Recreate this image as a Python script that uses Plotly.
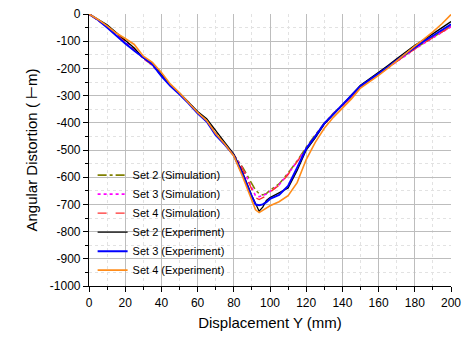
import plotly.graph_objects as go

x_mm = [0, 5, 10, 15, 20, 25, 30, 35, 40, 45, 50, 55, 60, 65, 70, 75, 80, 85, 90, 92, 94, 96, 98, 100,
        105, 110, 115, 120, 125, 130, 135, 140, 145, 150, 155, 160, 165, 170, 175, 180, 185, 190, 195, 200]

set2_sim = [0, -22, -46, -72, -100, -130, -162, -188, -225, -262, -293, -325, -362, -393, -438, -476, -518,
            -565, -628, -648, -660, -665, -660, -648, -625, -585, -540, -490, -445, -402, -365, -335, -305,
            -268, -242, -220, -196, -172, -150, -127, -106, -86, -66, -45]
set3_sim = [0, -22, -47, -73, -101, -131, -163, -189, -226, -263, -294, -326, -363, -395, -440, -478, -520,
            -570, -638, -668, -672, -668, -662, -652, -628, -588, -542, -492, -447, -404, -367, -337, -307,
            -270, -244, -222, -198, -174, -152, -129, -108, -88, -68, -47]
set4_sim = [0, -21, -45, -71, -99, -129, -161, -187, -224, -261, -292, -324, -361, -392, -437, -475, -517,
            -572, -642, -675, -682, -676, -668, -655, -630, -590, -542, -493, -448, -405, -366, -336, -306,
            -269, -243, -221, -197, -173, -151, -128, -107, -87, -67, -46]
set2_exp = [0, -20, -40, -68, -98, -125, -162, -180, -222, -262, -290, -325, -358, -385, -430, -472, -515,
            -585, -668, -700, -725, -710, -685, -675, -658, -640, -575, -500, -455, -405, -370, -335, -300,
            -262, -238, -215, -190, -165, -140, -115, -95, -72, -52, -28]
set3_exp = [0, -22, -50, -80, -108, -135, -160, -185, -228, -265, -295, -328, -365, -395, -445, -480, -520,
            -592, -672, -700, -703, -700, -692, -680, -665, -632, -565, -495, -450, -402, -368, -334, -302,
            -265, -242, -220, -196, -170, -146, -121, -100, -80, -60, -38]
set4_exp = [0, -20, -44, -70, -90, -112, -155, -178, -215, -258, -290, -325, -362, -392, -440, -478, -522,
            -600, -685, -720, -730, -722, -712, -705, -690, -668, -620, -535, -472, -420, -380, -345, -312,
            -272, -250, -226, -200, -172, -146, -118, -92, -66, -36, -2]

x_ticks = [0, 20, 40, 60, 80, 100, 120, 140, 160, 180, 200]
x_tick_labels = ["0", "20", "40", "60", "80", "100", "120", "140", "160", "180", "200"]
y_ticks = [0, -100, -200, -300, -400, -500, -600, -700, -800, -900, -1000]
y_tick_labels = ["0", "-100", "-200", "-300", "-400", "-500", "-600", "-700", "-800", "-900", "-1000"]

series = [
    ("Set 2 (Simulation)", set2_sim, dict(color="#808000", width=1.6, dash="dashdot")),
    ("Set 3 (Simulation)", set3_sim, dict(color="#ff00ff", width=1.6, dash="dot")),
    ("Set 4 (Simulation)", set4_sim, dict(color="#ff3030", width=1.4, dash="dash")),
    ("Set 2 (Experiment)", set2_exp, dict(color="#000000", width=1.3)),
    ("Set 3 (Experiment)", set3_exp, dict(color="#0000ff", width=2)),
    ("Set 4 (Experiment)", set4_exp, dict(color="#ff8c1a", width=1.6)),
]

fig = go.Figure()
for name, ys, line in series:
    fig.add_trace(go.Scatter(x=x_mm, y=ys, mode="lines", name=name, line=line))

font = "Liberation Sans, Arial, sans-serif"
fig.update_layout(
    width=455, height=323,
    margin=dict(l=81, r=12, t=6, b=45),
    paper_bgcolor="white", plot_bgcolor="white",
    font=dict(family=font, size=12, color="#000"),
    legend=dict(x=0.01, y=0.005, xanchor="left", yanchor="bottom",
                bgcolor="rgba(255,255,255,0)", font=dict(size=11, family=font),
                itemwidth=30, tracegroupgap=0),
    showlegend=True,
)
fig.update_xaxes(
    range=[0, 200], tickvals=x_ticks, ticktext=x_tick_labels,
    showline=True, linecolor="#000", linewidth=1.2,
    ticks="outside", ticklen=5, tickcolor="#000",
    showgrid=True, gridcolor="#bdbdbd", gridwidth=1,
    minor=dict(dtick=10, ticks="outside", ticklen=3, tickcolor="#000",
               showgrid=True, gridcolor="#e2e2e2", griddash="dot"),
    zeroline=False, automargin=False, ticklabeloverflow="allow",
    title=dict(text="Displacement Y (mm)", font=dict(size=15), standoff=10),
    tickfont=dict(size=12),
)
fig.update_yaxes(
    range=[-1000, 0], tickvals=y_ticks, ticktext=y_tick_labels,
    showline=True, linecolor="#000", linewidth=1.2,
    ticks="outside", ticklen=5, tickcolor="#000",
    showgrid=True, gridcolor="#bdbdbd", gridwidth=1,
    minor=dict(dtick=50, ticks="outside", ticklen=3, tickcolor="#000",
               showgrid=True, gridcolor="#e2e2e2", griddash="dot"),
    zeroline=False, automargin=False, ticklabeloverflow="allow",
    title=dict(text="Angular Distortion ( ⊢m)", font=dict(size=15), standoff=8),
    tickfont=dict(size=12),
)

fig.write_html("out.html")
